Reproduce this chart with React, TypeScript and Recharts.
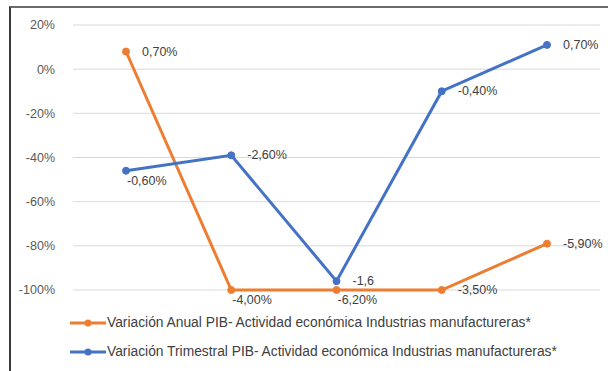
import { LineChart, Line, XAxis, YAxis, CartesianGrid, LabelList } from "recharts";

const periods = ["P1", "P2", "P3", "P4", "P5"];
// plotted position (percent scale)
const anualPlot = [8, -100, -100, -100, -79];
const trimestralPlot = [-46, -39, -96, -10, 11];
// labels printed next to each point
const anualLabels = ["0,70%", "-4,00%", "-6,20%", "-3,50%", "-5,90%"];
const trimestralLabels = ["-0,60%", "-2,60%", "-1,6", "-0,40%", "0,70%"];
const yTicks = [20, 0, -20, -40, -60, -80, -100];

const seriesNames = [
  "Variación Anual PIB- Actividad económica Industrias manufactureras*",
  "Variación Trimestral PIB- Actividad económica Industrias manufactureras*",
];

const ORANGE = "#ED7D31";
const BLUE = "#4472C4";
const FONT = "'Liberation Sans', Arial, sans-serif";

const data = periods.map((p, i) => ({
  period: p,
  anual: anualPlot[i],
  trimestral: trimestralPlot[i],
  anualLabel: anualLabels[i],
  trimestralLabel: trimestralLabels[i],
}));

// where each label sits relative to its point
const anualPos = ["right", "below", "below", "right", "right"];
const trimPos = ["below", "right", "right", "right", "right"];

const makeLabel = (texts: string[], pos: string[]) => (props: any) => {
  const { x, y, index } = props;
  const p = pos[index];
  const tx = p === "right" ? x + 16 : x + 1;
  const ty = p === "right" ? y + 4 : y + 14;
  return (
    <text x={tx} y={ty} fill="#404040" fontSize={12.5} fontFamily={FONT}>
      {texts[index]}
    </text>
  );
};

const CustomLegend = () => (
  <div
    style={{
      position: "absolute",
      left: 70,
      top: 308,
      fontFamily: FONT,
      fontSize: 13.8,
      color: "#404040",
      whiteSpace: "nowrap",
    }}
  >
    {[ORANGE, BLUE].map((c, i) => (
      <div key={i} style={{ display: "flex", alignItems: "center", height: 29 }}>
        <svg width={36} height={10}>
          <line x1={0} y1={5} x2={36} y2={5} stroke={c} strokeWidth={3} />
          <circle cx={18} cy={5} r={3.5} fill={c} />
        </svg>
        <span style={{ marginLeft: 1 }}>{seriesNames[i]}</span>
      </div>
    ))}
  </div>
);

export default function App() {
  return (
    <div style={{ position: "absolute", left: 0, top: 0, width: 608, height: 371, background: "#fff", overflow: "hidden" }}>
      <div
        style={{
          position: "absolute",
          left: 9,
          top: 6,
          width: 620,
          height: 400,
          borderTop: "2px solid #6b6b6b",
          borderLeft: "2px solid #3a3a3a",
        }}
      />
      <LineChart
        width={608}
        height={371}
        data={data}
        margin={{ top: 25, right: 8, bottom: 81, left: 0 }}
        style={{ position: "absolute", left: 0, top: 0 }}
      >
        <CartesianGrid vertical={false} stroke="#d9d9d9" />
        <XAxis dataKey="period" hide padding={{ left: 53, right: 53 }} />
        <YAxis
          type="number"
          domain={[-100, 20]}
          ticks={yTicks}
          width={73}
          axisLine={false}
          tickLine={false}
          tickMargin={12}
          tickFormatter={(v) => `${v}%`}
          tick={{ fill: "#595959", fontSize: 12.5, fontFamily: FONT }}
        />
        <Line
          dataKey="anual"
          stroke={ORANGE}
          strokeWidth={3}
          dot={{ r: 3.5, fill: ORANGE, stroke: ORANGE, strokeWidth: 1 }}
          isAnimationActive={false}
        >
          <LabelList dataKey="anualLabel" content={makeLabel(anualLabels, anualPos)} />
        </Line>
        <Line
          dataKey="trimestral"
          stroke={BLUE}
          strokeWidth={3}
          dot={{ r: 3.5, fill: BLUE, stroke: BLUE, strokeWidth: 1 }}
          isAnimationActive={false}
        >
          <LabelList dataKey="trimestralLabel" content={makeLabel(trimestralLabels, trimPos)} />
        </Line>
      </LineChart>
      <CustomLegend />
    </div>
  );
}
